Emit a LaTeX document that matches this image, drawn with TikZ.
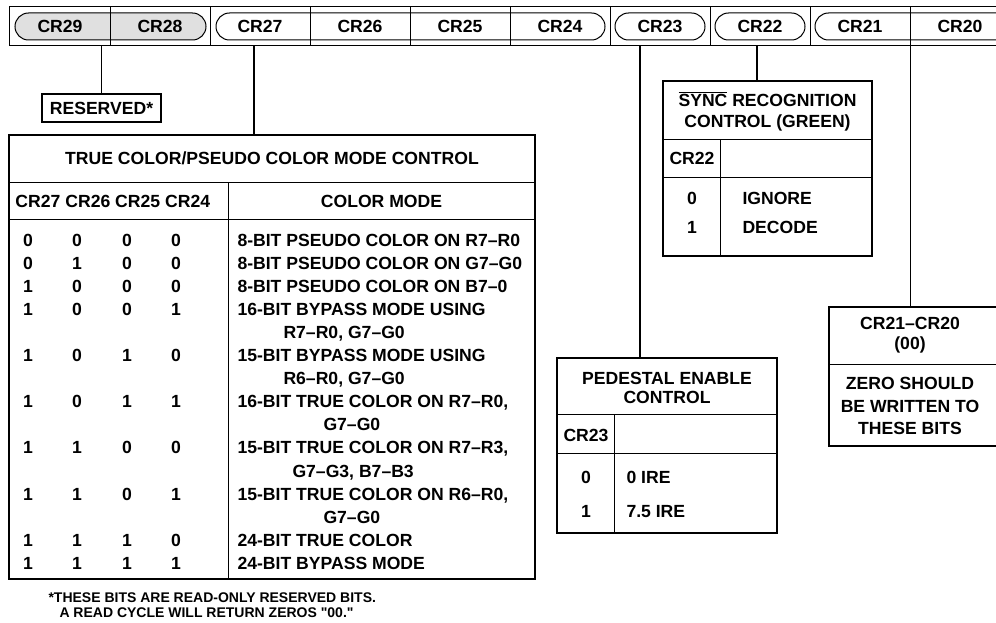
\documentclass[tikz,border=0pt]{standalone}
\usepackage{fontspec}
\setmainfont{Liberation Sans}[Ligatures=TeXOff]
\definecolor{resgray}{RGB}{224,224,224}
\begin{document}
\begin{tikzpicture}[x=1pt,y=-1pt,
  font=\bfseries\fontsize{17.6}{21}\selectfont,
  line width=1pt,
  lbl/.style={inner sep=0pt, text height=12.6pt, text depth=0pt},
  cell/.style={minimum width=100pt, minimum height=38pt, inner sep=0pt},
  box/.style={draw, line width=1.8pt, inner sep=0pt},
  wire/.style={line width=1.4pt},
  note/.style={inner sep=0pt, anchor=west, text height=10pt, text depth=0pt,
    font=\bfseries\fontsize{14}{16}\selectfont}]

  \useasboundingbox (0,0) rectangle (996,623);
  \clip (0,0) rectangle (996,623);

  % Register bits
  \fill[resgray, rounded corners=13.5pt] (15,13) rectangle (206,40);
  \foreach \i/\n in {0/29,1/28,2/27,3/26,4/25,5/24,6/23,7/22,8/21,9/20}
    \node[cell, lbl] (cr\n) at ({60+100*\i},26) {CR\n};
  \foreach \n in {29,28,...,21}
    \draw (cr\n.north east) -- (cr\n.south east);
  \foreach \a/\b in {15/206,216/605,615/705,715/805,815/1040}
    \draw[rounded corners=13.5pt] (\a,13) rectangle (\b,40);
  \draw[line width=1.6pt] (cr29.north west) rectangle (cr20.south east);

  % Reserved
  \node[box, lbl, line width=1.5pt, minimum width=119pt, minimum height=28pt] (reserved) at (101.5,108) {RESERVED*};
  \draw[wire] (reserved.north) -- (reserved.north |- cr29.south);

  % True color / pseudo color table
  \node[box, minimum width=526pt, minimum height=444pt] (modetbl) at (272,357) {};
  \draw[wire] ([xshift=-6pt]cr27.south) -- ([xshift=-6pt]cr27.south |- modetbl.north);
  \node[lbl] (modetitle) at (272,158) {TRUE COLOR/PSEUDO COLOR MODE CONTROL};
  \draw (9,182) -- (535,182);
  \draw (9,219) -- (535,219);
  \draw (228,182) -- (228,579);
  \node[lbl, anchor=west] (bithead) at (15,201) {CR27 CR26 CR25 CR24};
  \node[lbl] (modehead) at (381.5,201) {COLOR MODE};
  \foreach \k/\a/\b/\c/\d/\txt in {
      0/0/0/0/0/{8-BIT PSEUDO COLOR ON R7–R0},
      1/0/1/0/0/{8-BIT PSEUDO COLOR ON G7–G0},
      2/1/0/0/0/{8-BIT PSEUDO COLOR ON B7–0},
      3/1/0/0/1/{16-BIT BYPASS MODE USING},
      5/1/0/1/0/{15-BIT BYPASS MODE USING},
      7/1/0/1/1/{16-BIT TRUE COLOR ON R7–R0,},
      9/1/1/0/0/{15-BIT TRUE COLOR ON R7–R3,},
      11/1/1/0/1/{15-BIT TRUE COLOR ON R6–R0,},
      13/1/1/1/0/{24-BIT TRUE COLOR},
      14/1/1/1/1/{24-BIT BYPASS MODE}} {
    \node[lbl] (r\k-a) at (28,{240+23.07*\k}) {\a};
    \node[lbl] (r\k-b) at (77,{240+23.07*\k}) {\b};
    \node[lbl] (r\k-c) at (127,{240+23.07*\k}) {\c};
    \node[lbl] (r\k-d) at (176,{240+23.07*\k}) {\d};
    \node[lbl, anchor=west] (r\k-t) at (237,{240+23.07*\k}) {\txt};
  }
  \foreach \k/\x/\txt in {4/283/{R7–R0, G7–G0}, 6/283/{R6–R0, G7–G0},
      8/323/{G7–G0}, 10/292/{G7–G3, B7–B3}, 12/323/{G7–G0}}
    \node[lbl, anchor=west] (r\k-t) at (\x,{240+23.07*\k}) {\txt};

  % Footnote
  \node[note] (note1) at (48,597) {*THESE BITS ARE READ-ONLY RESERVED BITS.};
  \node[note] (note2) at (59,612) {A READ CYCLE WILL RETURN ZEROS "00."};

  % Sync recognition
  \node[box, minimum width=209pt, minimum height=175pt] (sync) at (767.5,168.5) {};
  \draw[wire] ([xshift=-3pt]cr22.south) -- ([xshift=-3pt]cr22.south |- sync.north);
  \node[lbl] (synct1) at (767.5,100) {$\overline{\hbox{SYNC}}$ RECOGNITION};
  \node[lbl] (synct2) at (767.5,121) {CONTROL (GREEN)};
  \draw (663,140) -- (872,140);
  \draw (663,177) -- (872,177);
  \draw (720,140) -- (720,256);
  \node[lbl] (synchd) at (692,158) {CR22};
  \node[lbl] (sync0) at (692,198) {0};
  \node[lbl, anchor=west] (syncig) at (742,198) {IGNORE};
  \node[lbl] (sync1) at (692,227) {1};
  \node[lbl, anchor=west] (syncdc) at (742,227) {DECODE};

  % Pedestal enable
  \node[box, minimum width=220pt, minimum height=175pt] (pedestal) at (667,445.5) {};
  \draw[wire] ([xshift=-20pt]cr23.south) -- ([xshift=-20pt]cr23.south |- pedestal.north);
  \node[lbl] (pedt1) at (667,378) {PEDESTAL ENABLE};
  \node[lbl] (pedt2) at (667,397) {CONTROL};
  \draw (557,414) -- (777,414);
  \draw (557,453) -- (777,453);
  \draw (614,414) -- (614,533);
  \node[lbl] (pedhd) at (586,435) {CR23};
  \node[lbl] (ped0) at (586,477) {0};
  \node[lbl, anchor=west] (pedire0) at (626,477) {0 IRE};
  \node[lbl] (ped1) at (586,511) {1};
  \node[lbl, anchor=west] (pedire1) at (626,511) {7.5 IRE};

  % CR21-CR20
  \node[box, minimum width=190pt, minimum height=139pt] (zerobox) at (924,376.5) {};
  \draw[wire] (cr21.south east) -- (cr21.south east |- zerobox.north);
  \draw (829,364) -- (1019,364);
  \node[lbl] (zerot1) at (910,323) {CR21–CR20};
  \node[lbl] (zerot2) at (910,343) {(00)};
  \node[lbl] (zero1) at (910,383) {ZERO SHOULD};
  \node[lbl] (zero2) at (910,406) {BE WRITTEN TO};
  \node[lbl] (zero3) at (910,428) {THESE BITS};

\end{tikzpicture}
\end{document}
